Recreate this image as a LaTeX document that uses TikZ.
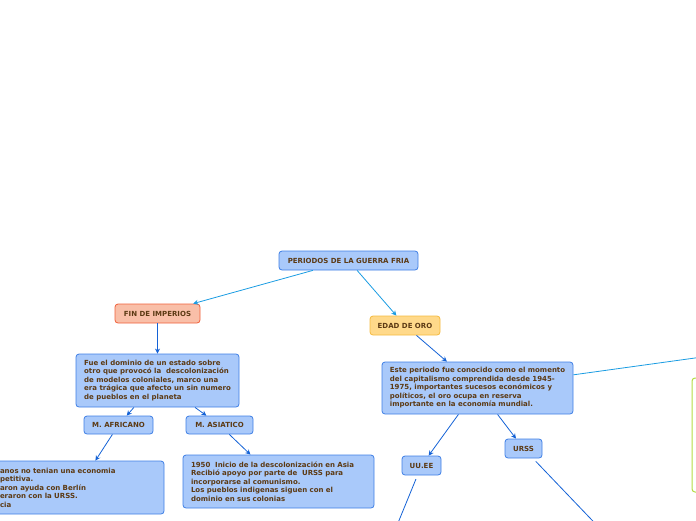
\documentclass[tikz,border=0pt]{standalone}
\usepackage{fontspec}
\setmainfont{DejaVu Sans}
\usetikzlibrary{arrows.meta,positioning}
\definecolor{fillblue}{HTML}{A9C9FA}
\definecolor{edgeblue}{HTML}{3F7FE6}
\definecolor{fillsalmon}{HTML}{F9BFA8}
\definecolor{edgeorange}{HTML}{F0603A}
\definecolor{fillgold}{HTML}{FFD98A}
\definecolor{edgegold}{HTML}{F4BA40}
\definecolor{edgegreen}{HTML}{B4DC45}
\definecolor{txtbrown}{HTML}{5C3A14}
\definecolor{lineone}{HTML}{1A9CE2}
\definecolor{linetwo}{HTML}{1462D6}

\begin{document}
\begin{tikzpicture}[x=1pt, y=-1pt,
    topic/.style={rectangle, draw, rounded corners=3pt, line width=0.8pt, font=\fontsize{7}{8.5}\selectfont\bfseries, text=txtbrown, inner sep=0pt, align=center},
    bluebox/.style={topic, draw=edgeblue, fill=fillblue},
    note/.style={bluebox, align=left, inner xsep=8pt},
    arr/.style={-{Stealth[length=5pt, width=5pt]}, line width=0.8pt},
    top/.style={arr, color=lineone},
    sub/.style={arr, color=linetwo}
]
\useasboundingbox (0,0) rectangle (696,520);
\clip (0,0) rectangle (696,520);

\node[bluebox, minimum width=139pt, minimum height=19pt] (guerra) at (348.5,260.5) {PERIODOS DE LA GUERRA FRIA};
\node[topic, draw=edgeorange, fill=fillsalmon, minimum width=85pt, minimum height=19pt] (imperios) at (157.5,313.5) {FIN DE IMPERIOS};
\node[topic, draw=edgegold, fill=fillgold, minimum width=70pt, minimum height=19pt] (oro) at (405,325.5) {EDAD DE ORO};

\node[note, minimum width=163pt, minimum height=53pt] (dominio) at (157.5,380.5) {Fue el dominio de un estado sobre\\otro que provocó la\ \ descolonización\\de modelos coloniales, marco una\\era trágica que afecto un sin numero\\de pueblos en el planeta};
\node[note, inner xsep=4pt, minimum width=191pt, minimum height=52pt] (periodo) at (477.5,388) {Este periodo fue conocido como el momento\\del capitalismo comprendida desde 1945-\\1975, importantes sucesos económicos y\\políticos, el oro ocupa en reserva\\importante en la economía mundial.};

\node[bluebox, minimum width=69pt, minimum height=18pt] (africano) at (118.5,425) {M. AFRICANO};
\node[bluebox, minimum width=67pt, minimum height=18pt] (asiatico) at (219.5,425) {M. ASIATICO};
\node[bluebox, minimum width=39pt, minimum height=19pt] (uuee) at (421.5,465.5) {UU.EE};
\node[bluebox, minimum width=37pt, minimum height=19pt] (urss) at (523.5,448.5) {URSS};

\node[note, text width=156pt, minimum height=53pt] (africa) at (78,487.5) {anos no tenian una economia\\petitiva.\\aron ayuda con Berlín\\eraron con la URSS.\\cia};
\node[note, text width=175pt, minimum height=53pt] (asia) at (278.5,481.5) {1950\ \ Inicio de la descolonización en Asia\\Recibió apoyo por parte de\ \ URSS para\\incorporarse al comunismo.\\Los pueblos indigenas siguen con el\\dominio en sus colonias};

\node[topic, draw=edgegreen, fill=white, line width=1pt, minimum width=120pt, minimum height=114pt] (verde) at (752,435) {};

\coordinate (arriba) at (760,349);
\coordinate (abajoa) at (391,540);
\coordinate (abajob) at (611,540);

\draw[top] (guerra) -- (imperios);
\draw[top] (guerra) -- (oro);
\draw[sub] (imperios) -- (dominio);
\draw[sub] (dominio) -- (africano);
\draw[sub] (dominio) -- (asiatico);
\draw[sub] (africano) -- (africa);
\draw[sub] (asiatico) -- (asia);
\draw[sub] (oro) -- (periodo);
\draw[sub] (periodo) -- (uuee);
\draw[sub] (periodo) -- (urss);
\draw[line width=0.8pt, color=lineone] (periodo) -- (arriba);
\draw[line width=0.8pt, color=linetwo, shorten <=4pt] (uuee) -- (abajoa);
\draw[line width=0.8pt, color=linetwo, shorten <=4pt] (urss) -- (abajob);
\end{tikzpicture}
\end{document}
